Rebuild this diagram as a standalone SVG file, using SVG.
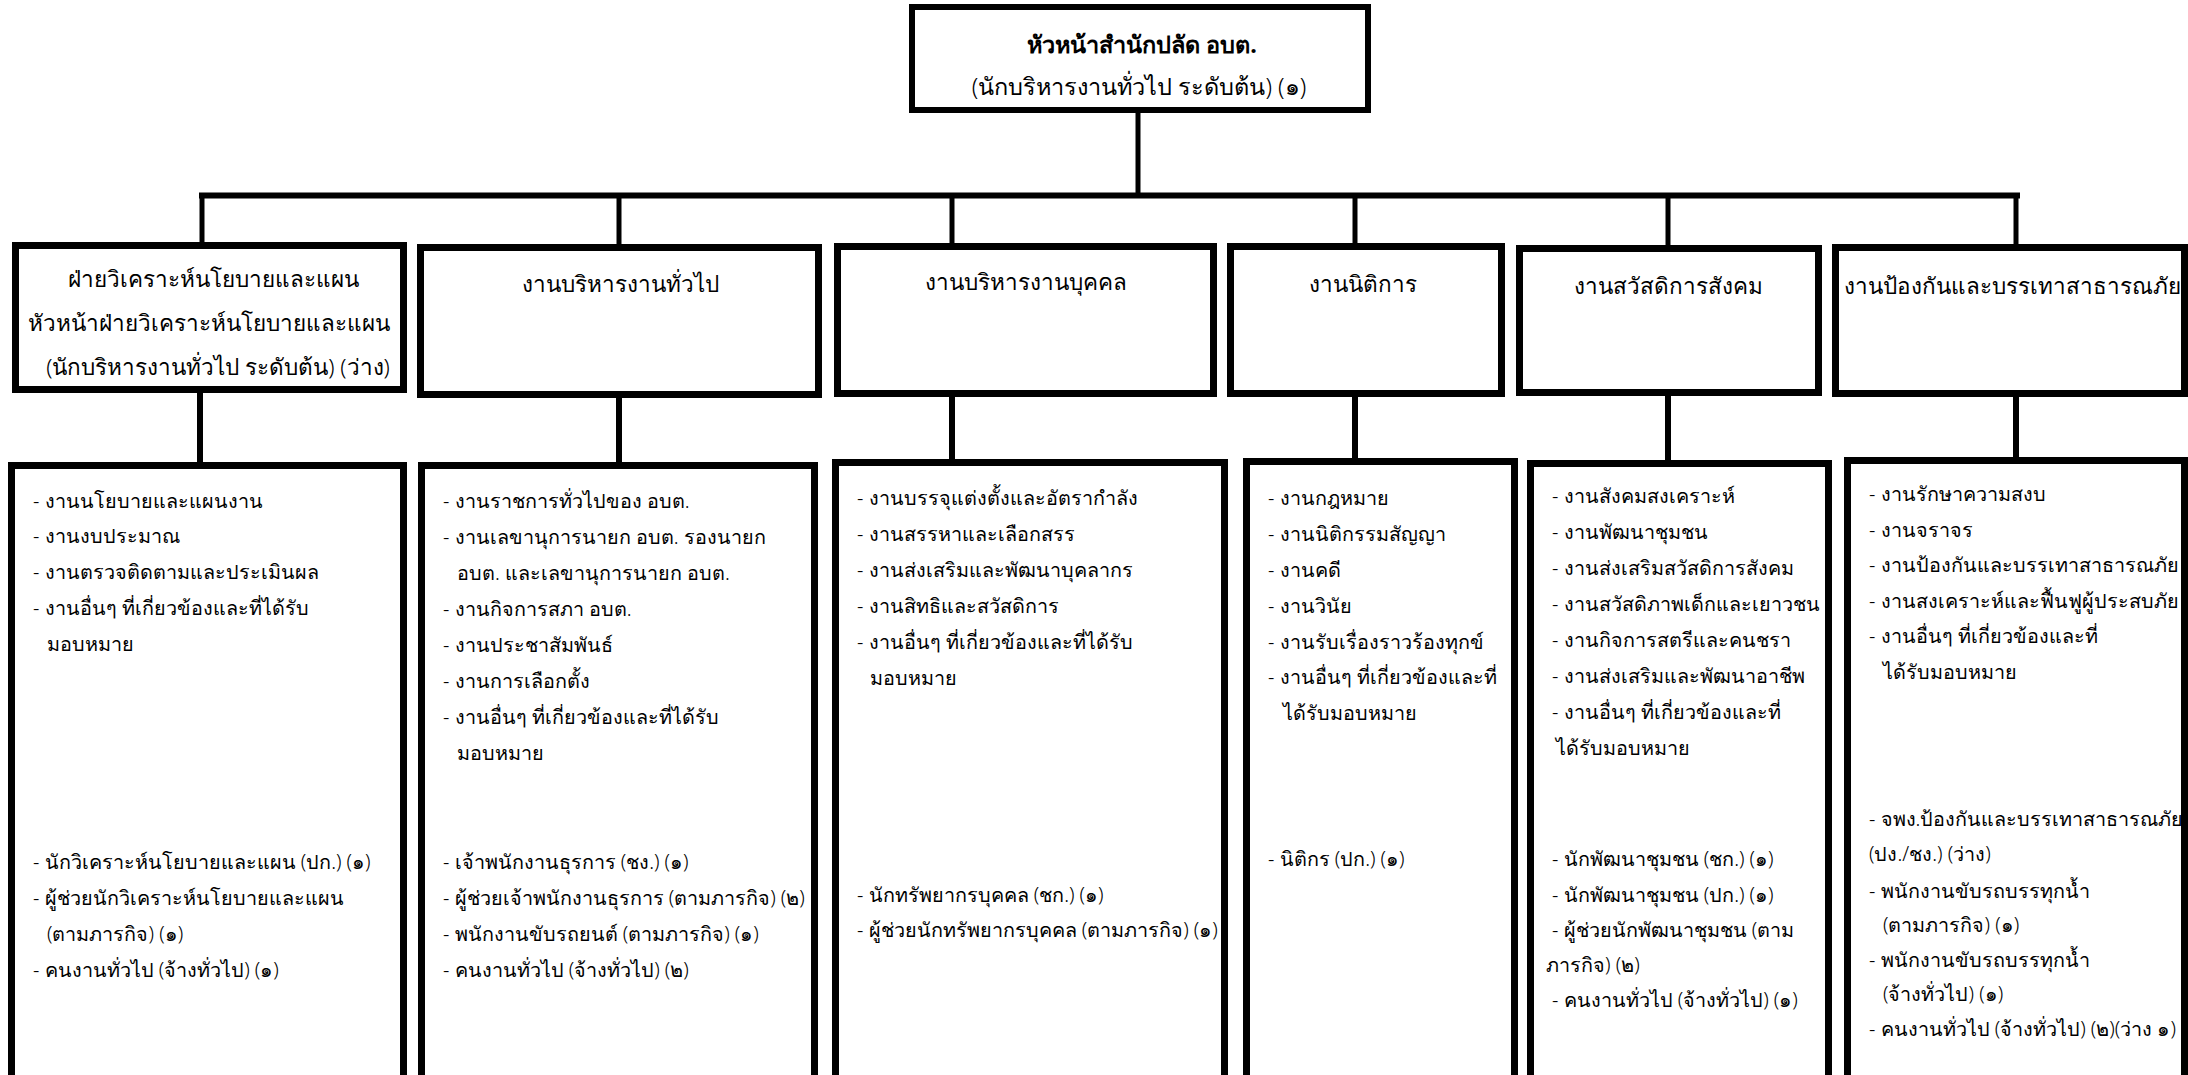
<svg xmlns="http://www.w3.org/2000/svg" width="2188" height="1075" viewBox="0 0 2188 1075">
<style>
  .box { fill: #ffffff; stroke: #000000; stroke-width: 7; }
  .top { fill: #ffffff; stroke: #000000; stroke-width: 6; }
  .ln { stroke: #000000; stroke-width: 5; fill: none; }
  .ln2 { stroke: #000000; stroke-width: 6; fill: none; }
  text { font-family: "Noto Sans", "DejaVu Sans", sans-serif; fill: #000000; font-weight: 300; }
  .t { font-size: 22.5px; text-anchor: middle; }
  .h { font-size: 23.5px; text-anchor: middle; }
  .b { font-size: 19.8px; }
  .bold { font-weight: bold; }
</style>
<rect width="2188" height="1075" fill="#ffffff"/>
<g id="connectors">
  <line class="ln" x1="1138" y1="110" x2="1138" y2="196"/>
  <line class="ln2" x1="199" y1="195.5" x2="2020" y2="195.5"/>
  <line class="ln" x1="202" y1="195" x2="202" y2="245"/>
  <line class="ln" x1="619" y1="196" x2="619" y2="247"/>
  <line class="ln" x1="952" y1="196" x2="952" y2="246"/>
  <line class="ln" x1="1355" y1="196" x2="1355" y2="246"/>
  <line class="ln" x1="1668" y1="196" x2="1668" y2="248"/>
  <line class="ln" x1="2016" y1="196" x2="2016" y2="247"/>
  <line class="ln2" x1="200" y1="390" x2="200" y2="465"/>
  <line class="ln2" x1="619" y1="395" x2="619" y2="465"/>
  <line class="ln2" x1="952" y1="394" x2="952" y2="462"/>
  <line class="ln2" x1="1355" y1="394" x2="1355" y2="461"/>
  <line class="ln2" x1="1668" y1="393" x2="1668" y2="463"/>
  <line class="ln2" x1="2016" y1="394" x2="2016" y2="460"/>
</g>
<g id="head">
  <rect class="top" x="912" y="7" width="456" height="103"/>
  <text class="h bold" x="1142" y="53">หัวหน้าสำนักปลัด อบต.</text>
  <text class="h" x="1139" y="95">(นักบริหารงานทั่วไป ระดับต้น) (๑)</text>
</g>
<g id="dept1">
  <rect class="box" x="15.5" y="245.5" width="388" height="144"/>
  <text class="t" x="213" y="287">ฝ่ายวิเคราะห์นโยบายและแผน</text>
  <text class="t" x="209" y="331">หัวหน้าฝ่ายวิเคราะห์นโยบายและแผน</text>
  <text class="t" x="218" y="375">(นักบริหารงานทั่วไป ระดับต้น) (ว่าง)</text>
</g>
<g id="dept2">
  <rect class="box" x="420.5" y="247.5" width="398" height="147"/>
  <text class="t" x="620" y="292">งานบริหารงานทั่วไป</text>
</g>
<g id="dept3">
  <rect class="box" x="837.5" y="246.5" width="376" height="147"/>
  <text class="t" x="1026" y="290">งานบริหารงานบุคคล</text>
</g>
<g id="dept4">
  <rect class="box" x="1230.5" y="246.5" width="271" height="147"/>
  <text class="t" x="1363" y="292">งานนิติการ</text>
</g>
<g id="dept5">
  <rect class="box" x="1519.5" y="248.5" width="299" height="144"/>
  <text class="t" x="1668" y="294">งานสวัสดิการสังคม</text>
</g>
<g id="dept6">
  <rect class="box" x="1835.5" y="247.5" width="349" height="146"/>
  <text class="t" x="2012" y="294">งานป้องกันและบรรเทาสาธารณภัย</text>
</g>
<g id="duty1">
  <rect class="box" x="11.5" y="465.5" width="392" height="640"/>
  <text class="b" x="33" y="508">- งานนโยบายและแผนงาน</text>
  <text class="b" x="33" y="543">- งานงบประมาณ</text>
  <text class="b" x="33" y="579">- งานตรวจติดตามและประเมินผล</text>
  <text class="b" x="33" y="615">- งานอื่นๆ ที่เกี่ยวข้องและที่ได้รับ</text>
  <text class="b" x="47" y="651">มอบหมาย</text>
  <text class="b" x="33" y="869">- นักวิเคราะห์นโยบายและแผน (ปก.) (๑)</text>
  <text class="b" x="33" y="905">- ผู้ช่วยนักวิเคราะห์นโยบายและแผน</text>
  <text class="b" x="47" y="941">(ตามภารกิจ) (๑)</text>
  <text class="b" x="33" y="977">- คนงานทั่วไป (จ้างทั่วไป) (๑)</text>
</g>
<g id="duty2">
  <rect class="box" x="421.5" y="465.5" width="393" height="640"/>
  <text class="b" x="443" y="508">- งานราชการทั่วไปของ อบต.</text>
  <text class="b" x="443" y="544">- งานเลขานุการนายก อบต. รองนายก</text>
  <text class="b" x="457" y="580">อบต. และเลขานุการนายก อบต.</text>
  <text class="b" x="443" y="616">- งานกิจการสภา อบต.</text>
  <text class="b" x="443" y="652">- งานประชาสัมพันธ์</text>
  <text class="b" x="443" y="688">- งานการเลือกตั้ง</text>
  <text class="b" x="443" y="724">- งานอื่นๆ ที่เกี่ยวข้องและที่ได้รับ</text>
  <text class="b" x="457" y="760">มอบหมาย</text>
  <text class="b" x="443" y="869">- เจ้าพนักงานธุรการ (ชง.) (๑)</text>
  <text class="b" x="443" y="905">- ผู้ช่วยเจ้าพนักงานธุรการ  (ตามภารกิจ) (๒)</text>
  <text class="b" x="443" y="941">- พนักงานขับรถยนต์ (ตามภารกิจ) (๑)</text>
  <text class="b" x="443" y="977">- คนงานทั่วไป (จ้างทั่วไป) (๒)</text>
</g>
<g id="duty3">
  <rect class="box" x="835.5" y="462.5" width="389" height="640"/>
  <text class="b" x="857" y="505">- งานบรรจุแต่งตั้งและอัตรากำลัง</text>
  <text class="b" x="857" y="541">- งานสรรหาและเลือกสรร</text>
  <text class="b" x="857" y="577">- งานส่งเสริมและพัฒนาบุคลากร</text>
  <text class="b" x="857" y="613">- งานสิทธิและสวัสดิการ</text>
  <text class="b" x="857" y="649">- งานอื่นๆ ที่เกี่ยวข้องและที่ได้รับ</text>
  <text class="b" x="870" y="685">มอบหมาย</text>
  <text class="b" x="857" y="902">- นักทรัพยากรบุคคล (ชก.) (๑)</text>
  <text class="b" x="857" y="937">- ผู้ช่วยนักทรัพยากรบุคคล (ตามภารกิจ) (๑)</text>
</g>
<g id="duty4">
  <rect class="box" x="1246.5" y="461.5" width="268" height="640"/>
  <text class="b" x="1268" y="505">- งานกฎหมาย</text>
  <text class="b" x="1268" y="541">- งานนิติกรรมสัญญา</text>
  <text class="b" x="1268" y="577">- งานคดี</text>
  <text class="b" x="1268" y="613">- งานวินัย</text>
  <text class="b" x="1268" y="649">- งานรับเรื่องราวร้องทุกข์</text>
  <text class="b" x="1268" y="684">- งานอื่นๆ ที่เกี่ยวข้องและที่</text>
  <text class="b" x="1283" y="720">ได้รับมอบหมาย</text>
  <text class="b" x="1268" y="866">- นิติกร (ปก.) (๑)</text>
</g>
<g id="duty5">
  <rect class="box" x="1530.5" y="463.5" width="298" height="640"/>
  <text class="b" x="1552" y="503">- งานสังคมสงเคราะห์</text>
  <text class="b" x="1552" y="539">- งานพัฒนาชุมชน</text>
  <text class="b" x="1552" y="575">- งานส่งเสริมสวัสดิการสังคม</text>
  <text class="b" x="1552" y="611">- งานสวัสดิภาพเด็กและเยาวชน</text>
  <text class="b" x="1552" y="647">- งานกิจการสตรีและคนชรา</text>
  <text class="b" x="1552" y="683">- งานส่งเสริมและพัฒนาอาชีพ</text>
  <text class="b" x="1552" y="719">- งานอื่นๆ ที่เกี่ยวข้องและที่</text>
  <text class="b" x="1556" y="755">ได้รับมอบหมาย</text>
  <text class="b" x="1552" y="866">- นักพัฒนาชุมชน (ชก.) (๑)</text>
  <text class="b" x="1552" y="902">- นักพัฒนาชุมชน (ปก.) (๑)</text>
  <text class="b" x="1552" y="937">- ผู้ช่วยนักพัฒนาชุมชน (ตาม</text>
  <text class="b" x="1546" y="972">ภารกิจ) (๒)</text>
  <text class="b" x="1552" y="1007">- คนงานทั่วไป (จ้างทั่วไป) (๑)</text>
</g>
<g id="duty6">
  <rect class="box" x="1847.5" y="460.5" width="337" height="640"/>
  <text class="b" x="1869" y="501">- งานรักษาความสงบ</text>
  <text class="b" x="1869" y="537">- งานจราจร</text>
  <text class="b" x="1869" y="572">- งานป้องกันและบรรเทาสาธารณภัย</text>
  <text class="b" x="1869" y="608">- งานสงเคราะห์และฟื้นฟูผู้ประสบภัย</text>
  <text class="b" x="1869" y="643">- งานอื่นๆ ที่เกี่ยวข้องและที่</text>
  <text class="b" x="1883" y="679">ได้รับมอบหมาย</text>
  <text class="b" x="1869" y="826">- จพง.ป้องกันและบรรเทาสาธารณภัย</text>
  <text class="b" x="1869" y="861">(ปง./ชง.) (ว่าง)</text>
  <text class="b" x="1869" y="898">- พนักงานขับรถบรรทุกน้ำ</text>
  <text class="b" x="1883" y="932">(ตามภารกิจ) (๑)</text>
  <text class="b" x="1869" y="967">- พนักงานขับรถบรรทุกน้ำ</text>
  <text class="b" x="1883" y="1001">(จ้างทั่วไป) (๑)</text>
  <text class="b" x="1869" y="1036">- คนงานทั่วไป (จ้างทั่วไป) (๒)(ว่าง ๑)</text>
</g>
</svg>
